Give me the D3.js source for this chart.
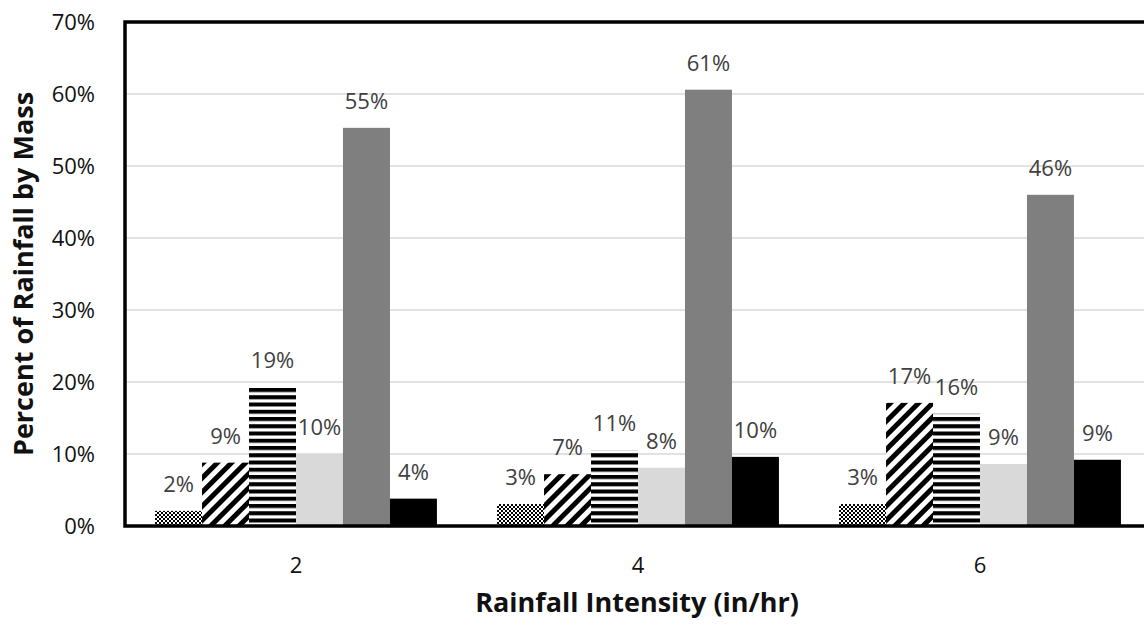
<!DOCTYPE html>
<html>
<head>
<meta charset="utf-8">
<script src="https://cdn.jsdelivr.net/npm/d3@7"></script>
<style>
  body { margin: 0; background: #fff; }
  svg { display: block; font-family: "Open Sans", sans-serif; }
</style>
</head>
<body>
<svg id="chart" width="1144" height="626"></svg>
<script>
const categories = ['2', '4', '6'];
const seriesNames = ['s1', 's2', 's3', 's4', 's5', 's6'];
// percent values per series, one entry per rainfall intensity
const s1 = [2.1, 3.05, 3.05];
const s2 = [8.8, 7.2, 17.1];
const s3 = [19.3, 10.5, 15.6];
const s4 = [10.0, 8.1, 8.6];
const s5 = [55.3, 60.6, 46.0];
const s6 = [3.8, 9.6, 9.2];
const yTicks = [0, 10, 20, 30, 40, 50, 60, 70];

const seriesValues = [s1, s2, s3, s4, s5, s6];
const fills = ['url(#checker)', 'url(#diag)', 'url(#hstripe)', '#d9d9d9', '#7f7f7f', '#000'];
const fontFamily = '"Open Sans", sans-serif';

const svg = d3.select('#chart');
const margin = { left: 125, top: 22 };
const plotRight = 1151;
const plotBottom = 526;

const x = d3.scaleBand().domain(categories).range([margin.left, plotRight]);
const xInner = d3.scaleBand().domain(seriesNames).range([0, x.bandwidth()]).paddingOuter(0.64);
const y = d3.scaleLinear().domain([0, 70]).range([plotBottom, margin.top]);

// patterns
const defs = svg.append('defs');
const checker = defs.append('pattern').attr('id', 'checker')
  .attr('patternUnits', 'userSpaceOnUse').attr('width', 4).attr('height', 4);
checker.append('rect').attr('width', 4).attr('height', 4).attr('fill', '#fff');
checker.append('rect').attr('width', 2).attr('height', 2).attr('fill', '#000');
checker.append('rect').attr('x', 2).attr('y', 2).attr('width', 2).attr('height', 2).attr('fill', '#000');

const diag = defs.append('pattern').attr('id', 'diag')
  .attr('patternUnits', 'userSpaceOnUse').attr('width', 10).attr('height', 10)
  .attr('patternTransform', 'rotate(45)');
diag.append('rect').attr('width', 10).attr('height', 10).attr('fill', '#fff');
diag.append('rect').attr('width', 5).attr('height', 10).attr('fill', '#000');

const hstripe = defs.append('pattern').attr('id', 'hstripe')
  .attr('patternUnits', 'userSpaceOnUse').attr('width', 8).attr('height', 7.25)
  .attr('y', 388);
hstripe.append('rect').attr('width', 8).attr('height', 7.25).attr('fill', '#fff');
hstripe.append('rect').attr('width', 8).attr('height', 4).attr('fill', '#000');

// gridlines
svg.append('g').selectAll('line').data(yTicks.slice(1, -1)).join('line')
  .attr('x1', margin.left).attr('x2', plotRight)
  .attr('y1', d => y(d)).attr('y2', d => y(d))
  .attr('stroke', '#d9d9d9').attr('stroke-width', 1.7);

// bars
const groups = svg.append('g').selectAll('g').data(categories).join('g')
  .attr('transform', d => `translate(${x(d)},0)`);

const barData = (c, ci) => seriesNames.map((s, si) => ({ s, si, v: seriesValues[si][ci] }));

groups.selectAll('rect').data((c, ci) => barData(c, ci)).join('rect')
  .attr('x', d => xInner(d.s))
  .attr('width', xInner.bandwidth())
  .attr('y', d => y(d.v))
  .attr('height', d => plotBottom - y(d.v))
  .attr('fill', d => fills[d.si]);

groups.selectAll('text').data((c, ci) => barData(c, ci)).join('text')
  .attr('x', d => xInner(d.s) + xInner.bandwidth() / 2)
  .attr('y', d => y(d.v) - 19)
  .attr('text-anchor', 'middle')
  .attr('font-size', 22)
  .attr('fill', '#404040')
  .text(d => Math.round(d.v) + '%');

// frame
svg.append('path')
  .attr('d', `M${plotRight + 10},${margin.top}H${margin.left}V${plotBottom}H${plotRight + 10}`)
  .attr('fill', 'none').attr('stroke', '#000').attr('stroke-width', 3.5);

// y axis labels
const yAxis = svg.append('g')
  .attr('transform', `translate(${margin.left},0)`)
  .call(d3.axisLeft(y).tickValues(yTicks).tickFormat(d => d + '%').tickSize(0).tickPadding(30));
yAxis.select('.domain').remove();
yAxis.selectAll('text').attr('font-size', 22).attr('fill', '#111').attr('font-family', fontFamily);

// x axis labels
const xAxis = svg.append('g')
  .attr('transform', `translate(0,${plotBottom})`)
  .call(d3.axisBottom(x).tickSize(0).tickPadding(31));
xAxis.select('.domain').remove();
xAxis.selectAll('text').attr('font-size', 22).attr('fill', '#111').attr('font-family', fontFamily);

// axis titles
svg.append('text')
  .attr('x', 637).attr('y', 612)
  .attr('text-anchor', 'middle')
  .attr('font-size', 27).attr('font-weight', 'bold').attr('fill', '#111')
  .text('Rainfall Intensity (in/hr)');

svg.append('text')
  .attr('transform', 'translate(33,274) rotate(-90)')
  .attr('text-anchor', 'middle')
  .attr('font-size', 27).attr('font-weight', 'bold').attr('fill', '#111')
  .text('Percent of Rainfall by Mass');
</script>
</body>
</html>
